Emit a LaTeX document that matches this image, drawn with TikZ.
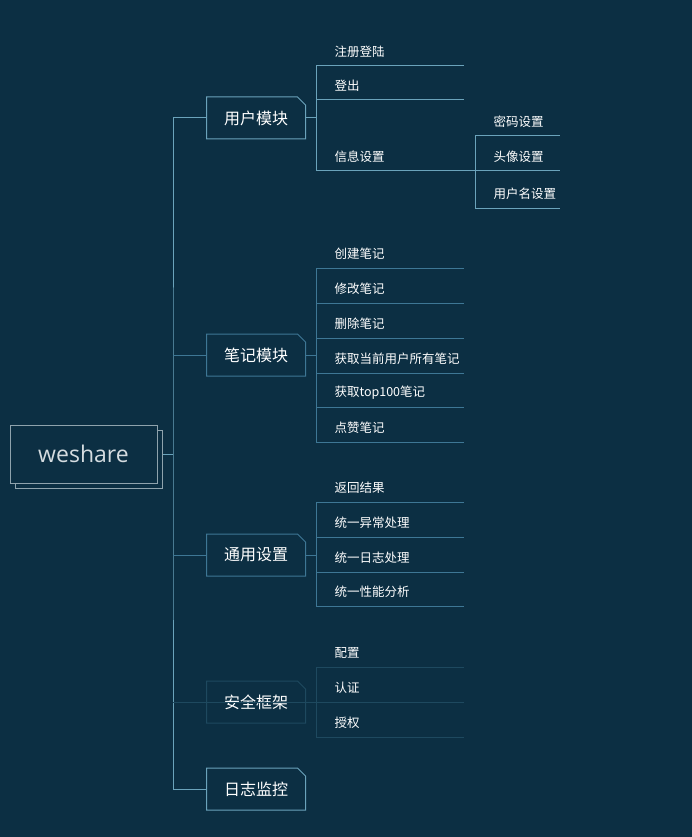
\documentclass[tikz,border=0pt]{standalone}
\usepackage{fontspec}
\newfontfamily\cjk{Noto Sans CJK SC}
\newfontfamily\rootfont{Open Sans}
\usetikzlibrary{positioning,shadows}
\definecolor{bg}{HTML}{0C2F43}
\definecolor{lineA}{HTML}{6BA3BB}
\definecolor{lineB}{HTML}{3E7795}
\definecolor{lineC}{HTML}{1E495F}
\definecolor{rootline}{HTML}{8FA3AD}
\definecolor{roottext}{HTML}{D5DCE0}
% topic outline with folded corner
\newcommand\notebox[2]{\draw[#2] (#1.south west) -- (#1.north west)
  -- ([xshift=-8pt]#1.north east) -- ([yshift=-8pt]#1.north east)
  -- (#1.south east) -- cycle;}
% one column of items: colour, bracket x, line length, list
\newcommand\branch[4]{%
  \foreach \n/\t/\ly in {#4} {
    \node[item] (\n) at (#2+18,\ly-14) {\t};
    \coordinate (\n-l) at (#2,\ly);
    \coordinate (\n-r) at (#2+#3,\ly);
    \draw[#1] (\n-l) -- (\n-r);
  }}

\begin{document}
\begin{tikzpicture}[
      x = 1pt, y = -1pt,
      line width = 1pt
    ]
    \tikzstyle{topic} = [minimum width=98pt, minimum height=41pt, inner sep=0pt, text=white, font=\cjk\fontsize{16}{16}\selectfont]
    \tikzstyle{item} = [anchor=west, inner sep=0pt, text=white, font=\cjk\fontsize{12.5}{13}\selectfont]
    \tikzstyle{root node} = [draw=rootline, fill=bg, minimum width=147pt, minimum height=58pt, text=roottext, font=\rootfont\fontsize{23}{23}\selectfont, copy shadow={shadow xshift=5pt, shadow yshift=-5pt}]
    \fill[bg] (0,0) rectangle (692,837);
    \useasboundingbox (0,0) rectangle (692,837);

    % root and topics
    \node[root node] (root) at (83.5,454) {weshare};
    \node[topic] (user) at (256,118) {用户模块};
    \node[topic] (notes) at (256,355) {笔记模块};
    \node[topic] (general) at (256,555) {通用设置};
    \node[topic] (sec) at (256,702) {安全框架};
    \node[topic] (log) at (256,789) {日志监控};
    \notebox{user}{lineA}
    \notebox{notes}{lineB}
    \notebox{general}{lineB}
    \notebox{sec}{lineC}
    \notebox{log}{lineA}

    % trunk
    \coordinate (trunk) at (173,454);
    \draw[lineA] ([xshift=5pt]root.east) -- (trunk);
    \draw[lineA] (user.west) -| (trunk) |- (log.west);
    \draw[lineB] (notes.west) -- (notes.west -| trunk);
    \draw[lineB] (general.west) -- (general.west -| trunk);

    % items
    \branch{lineA}{316}{148}{u1/注册登陆/66, u2/登出/100, u3/信息设置/171}
    \branch{lineA}{475}{85}{p1/密码设置/136, p2/头像设置/171, p3/用户名设置/208}
    \branch{lineB}{316}{148}{n1/创建笔记/268, n2/修改笔记/303, n3/删除笔记/338, n4/获取当前用户所有笔记/373, n5/获取top100笔记/407, n6/点赞笔记/442}
    \branch{lineB}{316}{148}{g1/返回结果/502, g2/统一异常处理/537, g3/统一日志处理/572, g4/统一性能分析/606}
    \branch{lineC}{316}{148}{s1/配置/667, s2/认证/702, s3/授权/737}

    % brackets
    \draw[lineA] (user.east) -- (user.east -| u1-l);
    \draw[lineA] (u1-l) -- (u3-l);
    \draw[lineA] (u3-r) -- (p2-l);
    \draw[lineA] (p1-l) -- (p3-l);
    \draw[lineB] (notes.east) -- (notes.east -| n1-l);
    \draw[lineB] (n1-l) -- (n6-l);
    \draw[lineB] (general.east) -- (general.east -| g1-l);
    \draw[lineB] (g1-l) -- (g4-l);
    \draw[lineC] (sec.west -| trunk) -- (s2-l);
    \draw[lineC] (s1-l) -- (s3-l);
  \end{tikzpicture}
\end{document}
